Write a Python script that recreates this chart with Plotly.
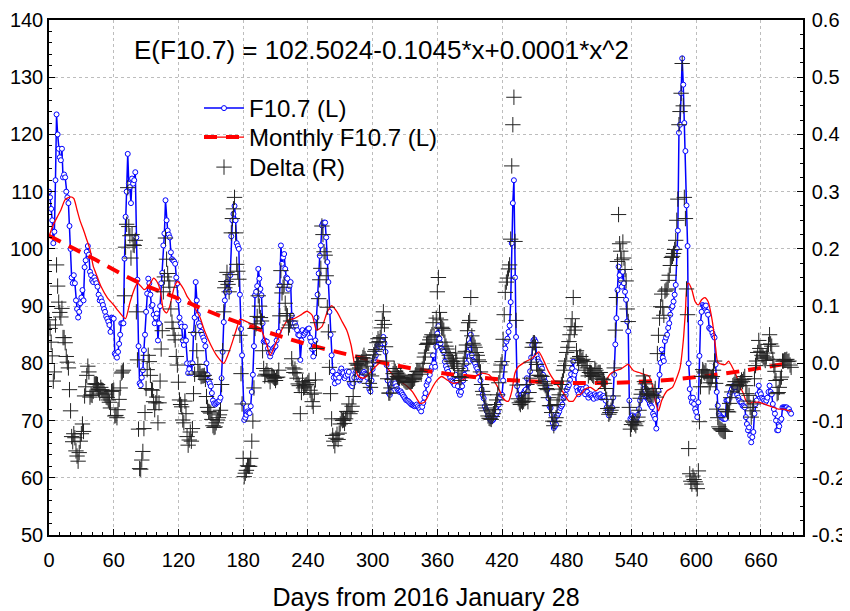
import plotly.graph_objects as go

# ---------------- data ----------------
f107 = [
    110, 109, 107, 105, 101, 103, 112, 123.5, 120, 117.5,
    116, 115.5, 117.5, 112.5, 113, 112.5, 110, 109, 108, 104,
    100, 95, 94, 95.4, 94, 91, 89.5, 88, 89, 90.5,
    91.5, 92.8, 91, 96.8, 98, 99.5, 100.5, 99, 96, 95.4,
    94.5, 94.2, 95, 94.5, 94, 93.4, 92, 91, 91.4, 90.8,
    90.2, 89.5, 89, 88.2, 87.8, 87.3, 86.7, 85.5, 88, 87.9,
    87.8, 81.7, 81.5, 81, 82, 83.4, 85, 87, 87, 87,
    98.3, 105.6, 110, 116.6, 111.4, 110.8, 108, 112.3, 111.4, 112,
    113.4, 102, 94.6, 83, 76.5, 76.2, 77.5, 78.8, 82.3, 85,
    89, 92.2, 94.8, 94, 92, 90, 90.2, 88.5, 87, 88,
    88.7, 84, 87, 90, 94, 95.8, 100.6, 102.7, 108.5, 105,
    103.2, 102.5, 102, 99.4, 98.2, 98, 97.8, 97.4, 95, 94,
    91, 88, 87, 86.4, 84, 83.2, 86.4, 84, 80, 78.3,
    79, 80, 78.3, 80, 85.2, 88, 94.2, 91, 88.5, 87,
    86.5, 85.5, 85, 84.5, 84, 83, 80, 78, 77, 76.5,
    76, 74.8, 73.5, 73, 72.8, 73, 73.2, 73.3, 73.5, 74,
    77.4, 82, 87.2, 91, 92.5, 94.2, 93, 92.5, 95.4, 102.2,
    105, 106.1, 107.5, 105, 101, 100.5, 100, 92, 86, 81.4,
    73, 70.1, 70.5, 71, 71.6, 71.4, 71.3, 72.5, 75, 78,
    83, 91.9, 92.5, 93.5, 96.5, 94.8, 93, 91.9, 87, 83.8,
    84, 83.8, 83.8, 82.6, 81.8, 81.2, 81.8, 82.2, 82.6, 82.8,
    83, 84, 84.8, 85.5, 93.6, 100.6, 97.4, 98.5, 99.1, 96.5,
    95, 94.8, 93, 93.5, 94.2, 88.4, 87, 86.4, 87, 86.5,
    85.8, 85, 84.9, 80.6, 84, 85.8, 84.9, 85.2, 85.5, 85.8,
    86, 86.1, 84.5, 83.8, 82.5, 81.2, 82.6, 84, 88, 92,
    95.7, 98.8, 100.6, 104.1, 104.5, 104.6, 104.6, 102, 97.7, 94.2,
    89, 85, 81.4, 78.6, 77.5, 76.5, 77.5, 78, 76.8, 77.5,
    78.6, 79.1, 78.5, 78.3, 77.4, 77.8, 78.6, 78, 78.5, 76.5,
    76.2, 76, 76.5, 77.5, 78.3, 78.6, 78, 77.5, 77, 77.5,
    77.7, 78.3, 78.5, 78.2, 78, 77.5, 76.5, 75.5, 75.1, 77,
    79, 80.3, 81, 81.4, 82.5, 83.2, 83, 82.9, 83.5, 84,
    84.6, 83.5, 82, 79.7, 77, 74.8, 74.5, 75, 76, 76.5,
    77, 76.5, 76, 75.5, 75.2, 75, 75.1, 74.8, 74.5, 74.2,
    73.9, 73.6, 73.5, 73.4, 73.2, 73, 72.8, 72.7, 72.6, 72.5,
    72.6, 72.8, 72.5, 72.2, 72, 71.6, 72.4, 73.1, 74, 74.8,
    76.2, 76.8, 77.1, 78, 78.8, 79.4, 81.4, 80, 79.4, 82.9,
    85.2, 86.5, 84.3, 83.5, 82.6, 82.3, 82, 80.3, 79.5, 79,
    78.5, 78, 77.5, 77, 76.8, 76.5, 76.2, 78, 77, 76,
    75, 74.5, 75, 76, 77, 78, 79, 80, 82, 83.2,
    83.5, 85, 81.4, 80.5, 80.3, 80, 79.4, 79.1, 78.5, 78.3,
    77, 75.4, 74.5, 73.9, 72.5, 72, 71.6, 70.8, 70.5, 70.2,
    69.9, 70, 70.2, 70.5, 71, 71.2, 71.6, 72.8, 74, 74.5,
    74.5, 77, 80, 82.6, 83.8, 84.3, 85.5, 86.6, 90.7, 101,
    108, 112, 95, 84.6, 76, 74.5, 74, 73.9, 74.5, 74.6,
    74.8, 75.2, 75.4, 77.4, 75.1, 76.5, 78.6, 81, 83.2, 84,
    84.2, 83.8, 81.4, 80.8, 80.3, 80, 79.5, 79.1, 78, 77.4,
    76.8, 76, 75.4, 73.9, 72.5, 72.2, 71, 69.6, 68.7, 69,
    69.3, 70.8, 71.2, 71.6, 72.2, 72.5, 72.8, 73.9, 74.2, 74.5,
    75.4, 75.8, 76.2, 77.1, 78.1, 79.1, 80.3, 78, 78.6, 75.8,
    75.2, 74.6, 75.5, 75.5, 75.2, 75.5, 75, 74.6, 75.8, 75,
    74, 74.5, 74.6, 74.3, 74, 73.8, 74.6, 74.3, 74, 74.3,
    74.5, 74.6, 74, 74.2, 74.3, 74, 73.5, 72.3, 71.4, 70.9,
    71.4, 71.8, 72.3, 74, 78, 83.3, 87.9, 92.8, 96.9, 95.4,
    94.5, 93.4, 96, 94, 92.5, 91.1, 87.3, 85.6, 73.5, 70.3,
    70.6, 70.9, 70.6, 70.3, 70, 70.5, 71, 72, 73.5, 74,
    74.6, 76.4, 75.5, 75.2, 74, 73.8, 73.5, 72.9, 72.6, 72.3,
    71.2, 70.8, 70.3, 68.6, 73.5, 75.2, 78, 80.1, 82.4, 81,
    80.4, 83.9, 84.5, 85, 86.2, 87, 88.5, 89.7, 90, 90.8,
    92, 93.7, 100.1, 103.2, 120.3, 121.7, 127.2, 133.3, 128.7, 122,
    117.1, 107.6, 100.5, 80, 75.5, 74, 73.2, 74, 72.9, 72,
    71.5, 70.6, 73.2, 81.3, 87.1, 89, 90.2, 90, 89.9, 90.1,
    89, 88.5, 86.2, 86, 85.9, 85.3, 84.8, 84.5, 79.8, 75,
    72.6, 71.2, 70.9, 70.6, 70.5, 70.3, 70.3, 70.3, 73.5, 73.5,
    73.6, 74.5, 75, 75.5, 76, 75.8, 75.8, 75, 74.5, 74,
    73.5, 73.2, 73.2, 72.6, 72.5, 72.3, 70.6, 69.4, 68.3, 68.8,
    67.4, 66.2, 67.1, 68, 71.2, 72.9, 73.5, 74.6, 76.1, 75,
    74.6, 74, 73.8, 73.5, 73.2, 73.5, 74, 75, 76.1, 75,
    74.6, 72.9, 72, 71.2, 70, 68.3, 68.3, 69, 70, 70.3,
    72.3, 72.3, 72.3, 72.3, 72.3, 72, 72, 71.5, 71.2,
]

delta = [
    0.076, 0.061, 0.037, 0.013, -0.031, -0.015, 0.067, 0.172, 0.135, 0.107,
    0.089, 0.081, 0.096, 0.045, 0.045, 0.036, 0.012, 0.002, -0.008, -0.046,
    -0.083, -0.128, -0.137, -0.123, -0.130, -0.153, -0.162, -0.171, -0.156, -0.136,
    -0.123, -0.106, -0.119, -0.057, -0.041, -0.021, -0.005, -0.015, -0.059, -0.055,
    -0.056, -0.049, -0.036, -0.036, -0.036, -0.037, -0.046, -0.052, -0.042, -0.046,
    -0.048, -0.052, -0.055, -0.059, -0.060, -0.064, -0.068, -0.078, -0.049, -0.048,
    -0.047, -0.092, -0.091, -0.095, -0.081, -0.063, -0.043, -0.017, -0.015, -0.012,
    0.118, 0.203, 0.243, 0.307, 0.239, 0.223, 0.184, 0.225, 0.207, 0.206,
    0.215, 0.090, 0.006, -0.115, -0.184, -0.185, -0.169, -0.154, -0.114, -0.086,
    -0.044, -0.011, 0.014, 0.003, -0.021, -0.046, -0.047, -0.067, -0.081, -0.069,
    -0.059, -0.104, -0.069, -0.031, 0.025, 0.057, 0.125, 0.151, 0.219, 0.182,
    0.157, 0.144, 0.133, 0.095, 0.072, 0.061, 0.049, 0.041, 0.012, -0.003,
    -0.033, -0.064, -0.072, -0.076, -0.099, -0.104, -0.066, -0.088, -0.128, -0.143,
    -0.134, -0.120, -0.136, -0.114, -0.053, -0.019, 0.054, 0.022, -0.002, -0.015,
    -0.017, -0.023, -0.022, -0.022, -0.021, -0.028, -0.058, -0.077, -0.084, -0.085,
    -0.087, -0.098, -0.109, -0.112, -0.111, -0.104, -0.099, -0.095, -0.090, -0.082,
    -0.037, 0.022, 0.090, 0.132, 0.143, 0.159, 0.138, 0.125, 0.155, 0.228,
    0.253, 0.270, 0.290, 0.228, 0.173, 0.161, 0.147, 0.049, -0.018, -0.071,
    -0.166, -0.198, -0.192, -0.187, -0.179, -0.180, -0.180, -0.166, -0.136, -0.101,
    -0.043, 0.061, 0.069, 0.082, 0.118, 0.100, 0.080, 0.074, 0.022, -0.009,
    -0.022, -0.019, -0.013, -0.020, -0.022, -0.032, -0.021, -0.022, -0.024, -0.026,
    -0.030, -0.025, -0.024, -0.012, 0.083, 0.162, 0.123, 0.133, 0.138, 0.105,
    0.087, 0.083, 0.062, 0.067, 0.074, 0.008, -0.008, -0.016, -0.010, -0.017,
    -0.026, -0.036, -0.039, -0.088, -0.051, -0.032, -0.043, -0.041, -0.038, -0.037,
    -0.034, -0.030, -0.047, -0.054, -0.067, -0.075, -0.052, -0.029, 0.026, 0.071,
    0.113, 0.146, 0.166, 0.240, 0.225, 0.195, 0.189, 0.153, 0.098, 0.055,
    -0.007, -0.053, -0.097, -0.126, -0.136, -0.144, -0.131, -0.124, -0.133, -0.122,
    -0.106, -0.097, -0.100, -0.099, -0.105, -0.097, -0.084, -0.085, -0.071, -0.088,
    -0.084, -0.075, -0.058, -0.032, -0.010, 0.000, -0.003, -0.003, -0.008, -0.001,
    0.003, 0.010, 0.014, 0.008, 0.004, -0.005, -0.019, -0.035, -0.042, -0.022,
    0.001, 0.015, 0.021, 0.024, 0.036, 0.043, 0.038, 0.045, 0.062, 0.075,
    0.090, 0.068, 0.029, 0.004, -0.027, -0.052, -0.052, -0.043, -0.028, -0.018,
    -0.009, -0.014, -0.018, -0.023, -0.025, -0.026, -0.022, -0.025, -0.026, -0.029,
    -0.031, -0.033, -0.033, -0.032, -0.032, -0.032, -0.032, -0.031, -0.028, -0.026,
    -0.020, -0.014, -0.014, -0.015, -0.014, -0.019, -0.010, 0.000, 0.011, 0.018,
    0.033, 0.035, 0.035, 0.041, 0.046, 0.050, 0.071, 0.048, 0.037, 0.079,
    0.125, 0.150, 0.089, 0.076, 0.063, 0.061, 0.058, 0.037, 0.030, 0.025,
    0.019, 0.014, 0.009, 0.004, 0.003, 0.000, -0.005, 0.018, 0.004, -0.009,
    -0.023, -0.030, -0.025, -0.013, -0.001, 0.009, 0.021, 0.032, 0.057, 0.071,
    0.075, 0.115, 0.048, 0.035, 0.032, 0.028, 0.019, 0.014, 0.006, 0.003,
    -0.015, -0.037, -0.049, -0.055, -0.073, -0.078, -0.083, -0.092, -0.096, -0.097,
    -0.098, -0.093, -0.088, -0.081, -0.072, -0.064, -0.055, -0.034, -0.015, -0.003,
    0.003, 0.042, 0.085, 0.124, 0.142, 0.149, 0.165, 0.172, 0.217, 0.345,
    0.417, 0.465, 0.213, 0.075, -0.038, -0.062, -0.069, -0.072, -0.066, -0.068,
    -0.066, -0.062, -0.061, -0.037, -0.067, -0.051, -0.026, 0.002, 0.028, 0.036,
    0.036, 0.028, -0.002, -0.012, -0.021, -0.021, -0.022, -0.023, -0.032, -0.036,
    -0.039, -0.044, -0.046, -0.060, -0.074, -0.074, -0.086, -0.101, -0.109, -0.102,
    -0.095, -0.072, -0.064, -0.055, -0.045, -0.037, -0.031, -0.012, -0.004, 0.004,
    0.019, 0.028, 0.038, 0.050, 0.064, 0.078, 0.115, 0.058, 0.064, 0.022,
    0.009, 0.001, 0.012, 0.012, 0.005, 0.007, -0.004, -0.012, 0.003, -0.008,
    -0.022, -0.016, -0.016, -0.018, -0.021, -0.023, -0.009, -0.012, -0.019, -0.016,
    -0.016, -0.016, -0.026, -0.028, -0.029, -0.035, -0.044, -0.063, -0.079, -0.089,
    -0.086, -0.082, -0.077, -0.057, -0.008, 0.058, 0.115, 0.178, 0.260, 0.209,
    0.196, 0.181, 0.212, 0.184, 0.164, 0.144, 0.095, 0.073, -0.077, -0.115,
    -0.107, -0.101, -0.103, -0.106, -0.109, -0.102, -0.094, -0.082, -0.061, -0.054,
    -0.046, -0.022, -0.032, -0.036, -0.050, -0.053, -0.055, -0.057, -0.056, -0.054,
    -0.056, -0.050, -0.044, -0.059, 0.017, 0.049, 0.079, 0.099, 0.121, 0.098,
    0.084, 0.126, 0.128, 0.130, 0.145, 0.154, 0.171, 0.185, 0.187, 0.192,
    0.199, 0.215, 0.250, 0.287, 0.417, 0.440, 0.472, 0.524, 0.450, 0.290,
    0.253, 0.130, 0.085, -0.149, -0.193, -0.206, -0.211, -0.197, -0.203, -0.207,
    -0.211, -0.219, -0.188, -0.102, -0.041, -0.023, -0.011, -0.015, -0.017, -0.013,
    -0.022, -0.025, -0.041, -0.034, -0.026, -0.023, -0.012, 0.004, -0.035, -0.080,
    -0.095, -0.111, -0.114, -0.116, -0.117, -0.119, -0.119, -0.119, -0.081, -0.084,
    -0.085, -0.070, -0.060, -0.050, -0.039, -0.037, -0.032, -0.037, -0.039, -0.039,
    -0.038, -0.034, -0.029, -0.032, -0.028, -0.023, -0.039, -0.053, -0.066, -0.056,
    -0.077, -0.094, -0.083, -0.071, -0.027, -0.004, 0.004, 0.019, 0.040, 0.026,
    0.021, 0.014, 0.011, 0.008, 0.005, 0.011, 0.018, 0.033, 0.050, 0.034,
    0.030, 0.007, -0.004, -0.014, -0.030, -0.053, -0.051, -0.042, -0.028, -0.024,
    0.004, 0.004, 0.006, 0.006, 0.007, 0.003, 0.004, -0.003, -0.007,
]

days = list(range(len(f107)))

monthly_days = [
    0, 4, 8, 11, 15, 20, 23, 26, 29, 32, 35, 38, 41, 44, 48, 54, 60, 64, 68, 71,
    75, 79, 82, 85, 88, 91, 94, 97, 100, 103, 106, 109, 112, 116, 119, 122, 125, 128, 131, 136,
    140, 144, 150, 156, 162, 168, 174, 177, 184, 190, 196, 202, 205, 210, 214, 221, 227, 233, 239, 244,
    248, 253, 258, 262, 267, 272, 276, 280, 284, 287, 292, 296, 301, 306, 310, 314, 320, 326, 332, 337,
    341, 344, 348, 352, 356, 360, 364, 369, 375, 381, 386, 389, 395, 401, 408, 414, 418, 421, 424, 426,
    429, 432, 435, 442, 448, 454, 459, 463, 469, 476, 482, 486, 490, 493, 497, 502, 507, 511, 516, 520,
    525, 530, 534, 537, 542, 547, 551, 556, 559, 562, 565, 568, 573, 578, 582, 585, 588, 590, 591.5, 593,
    596, 599, 602, 605, 608, 611, 615, 618, 620, 624, 627, 630, 633, 638, 641, 644, 646, 649, 652, 655,
    658, 663, 667, 672, 676, 681, 686, 688,
]
monthly_vals = [
    102.2, 104.2, 105.7, 106.8, 108.6, 109.1, 108.8, 106.8, 104.8, 103.3, 101.6, 99.9, 97, 95.5, 93.5, 91.5, 90.2, 89.2, 88.3, 87.8,
    90.6, 92.9, 94, 93.5, 92.9, 93.2, 94, 94.9, 94.3, 92.9, 89.4, 88.8, 90, 93.2, 94.3, 93.8, 92.9, 91.7, 90.9, 89.4,
    88, 85.8, 83.2, 81.2, 80, 82.6, 86.1, 87.7, 87.2, 86.7, 86.1, 83.2, 81.4, 83.4, 85.2, 87.5, 87.8, 88.4, 89.1, 88.4,
    85.8, 86.4, 89, 90.1, 89, 87.2, 85.8, 83.2, 79.1, 77.7, 77.4, 78, 79.1, 80, 80.2, 79.1, 77.7, 76.8, 76, 75,
    73.8, 73, 73.2, 74.5, 76, 77.1, 77.7, 77.1, 76.5, 76.8, 77.4, 77.7, 77.7, 78.3, 78, 76.5, 75.1, 73.9, 73.4, 73.4,
    75.1, 78.3, 79.4, 80.3, 80.9, 82, 80.3, 78.6, 76.8, 75.1, 73.4, 73.4, 74.5, 74.6, 75.5, 75.8, 75.2, 75.8, 76.9, 78.1,
    78.7, 79, 79.5, 79.8, 78.7, 78.4, 78.1, 77.8, 76.4, 73.5, 71.7, 73.5, 75.2, 75.8, 77.5, 79.2, 83.9, 89.1, 93.7, 94,
    92.8, 90.8, 90.2, 91.1, 91.5, 90.8, 87.3, 82.7, 80.2, 79.8, 79.8, 80.4, 79.5, 77.5, 75.8, 74.6, 73.5, 72.9, 73.2, 73.2,
    73.2, 72.9, 72.6, 72.3, 72, 72, 71.7, 71.7,
]

trend_days = [0, 40, 80, 120, 160, 200, 240, 280, 320, 360, 400, 440, 480, 520, 560, 600, 640, 688]
trend_vals = [102.3, 98.4, 94.4, 91.3, 88.2, 85.6, 83.3, 81.4, 79.7, 78.4, 77.5, 76.9, 76.6, 76.6, 76.9, 77.6, 78.6, 80.1]

x_ticks = list(range(0, 661, 60))
left_ticks = list(range(50, 141, 10))
right_ticks = [-0.3, -0.2, -0.1, 0.0, 0.1, 0.2, 0.3, 0.4, 0.5, 0.6]
right_tick_text = ["-0.3", "-0.2", "-0.1", "0.0", "0.1", "0.2", "0.3", "0.4", "0.5", "0.6"]
formula_text = "E(F10.7) = 102.5024-0.1045*x+0.0001*x^2"

FONT = "Liberation Sans, Arial, sans-serif"
LEG_FONT = dict(family=FONT, size=24, color="black")

fig = go.Figure()

fig.add_trace(go.Scatter(
    x=days, y=f107, name="F10.7 (L)", mode="lines+markers",
    line=dict(color="#0000ff", width=1.5),
    marker=dict(symbol="circle", size=5, color="white",
                line=dict(color="#0000ff", width=1)),
    legend="legend", showlegend=True,
))
fig.add_trace(go.Scatter(
    x=monthly_days, y=monthly_vals, name="Monthly F10.7 (L)", mode="lines",
    line=dict(color="#ff0000", width=1.3, shape="spline", smoothing=0.6),
    legend="legend2", showlegend=True,
))
fig.add_trace(go.Scatter(
    x=trend_days, y=trend_vals, name=" ", mode="lines",
    line=dict(color="#ff0000", width=4, dash="13px,9px", shape="spline"),
    legend="legend3", showlegend=True,
))
fig.add_trace(go.Scatter(
    x=days, y=delta, name="Delta (R)", mode="markers", yaxis="y2",
    marker=dict(symbol="cross-thin", size=11, color="#222222",
                line=dict(color="#222222", width=1)),
    legend="legend4", showlegend=True,
))

axis_common = dict(
    showline=True, linecolor="black", linewidth=1.5,
    ticks="inside", ticklen=6, tickcolor="black",
    tickfont=dict(family=FONT, size=20, color="black"),
    zeroline=False, automargin=False, ticklabeloverflow="allow",
)

# The page adds an 8 px body margin; figure is sized so that the page is 850x611.
OFF = 8
W, HF = 842, 603
L, R, T, B = 41, 47, 12, 76
PW, PH = W - L - R, HF - T - B


def px(page_x):
    return (page_x - OFF - L) / PW


def py(page_y):
    return 1 - (page_y - OFF - T) / PH


def leg(top_page):
    return dict(
        x=px(199), y=py(top_page), xanchor="left", yanchor="top",
        bgcolor="rgba(0,0,0,0)", borderwidth=0, font=LEG_FONT, itemwidth=40,
    )


fig.update_layout(
    width=W, height=HF,
    margin=dict(l=L, r=R, t=T, b=B),
    paper_bgcolor="white", plot_bgcolor="white",
    font=dict(family=FONT, color="black"),
    showlegend=True,
    xaxis=dict(
        range=[0, 699], tickvals=x_ticks, mirror=True,
        showgrid=True, gridcolor="#bdbdbd", griddash="dot", gridwidth=1,
        minor=dict(dtick=10, tick0=0, ticks="inside", ticklen=3, tickcolor="black", showgrid=False),
        ticklabelstandoff=6,
        title=dict(text="Days from 2016 January 28", font=dict(family=FONT, size=25, color="black"), standoff=26),
        **axis_common,
    ),
    yaxis=dict(
        range=[50, 140], tickvals=left_ticks,
        showgrid=True, gridcolor="#bdbdbd", griddash="dot", gridwidth=1,
        minor=dict(dtick=2, tick0=50, ticks="inside", ticklen=3, tickcolor="black", showgrid=False),
        ticklabelstandoff=0,
        **axis_common,
    ),
    yaxis2=dict(
        range=[-0.3, 0.6], tickvals=right_ticks, ticktext=right_tick_text,
        overlaying="y", side="right", showgrid=False,
        minor=dict(dtick=0.025, tick0=-0.3, ticks="inside", ticklen=3, tickcolor="black", showgrid=False),
        ticklabelstandoff=3,
        **axis_common,
    ),
    legend=leg(86),
    legend2=leg(115),
    legend3=leg(115),
    legend4=leg(145),
    annotations=[dict(
        text=formula_text, x=px(381), y=py(50), xref="paper", yref="paper",
        showarrow=False, xanchor="center", yanchor="middle",
        font=dict(family=FONT, size=26, color="black"),
    )],
)

fig.write_html("out.html")
